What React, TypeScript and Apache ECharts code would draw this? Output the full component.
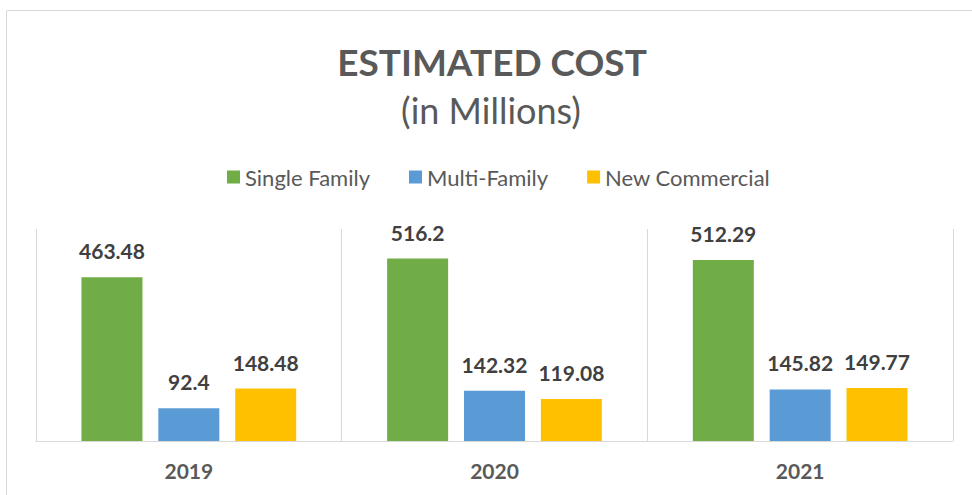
import React, { useEffect, useRef } from "react";
import * as echarts from "echarts";

const categories = ["2019", "2020", "2021"];
const singleFamily = [463.48, 516.2, 512.29];
const multiFamily = [92.4, 142.32, 145.82];
const newCommercial = [148.48, 119.08, 149.77];
const seriesNames = ["Single Family", "Multi-Family", "New Commercial"];
const colors = ["#70AD47", "#5B9BD5", "#FFC000"];

const FONT = "Lato, 'Open Sans', sans-serif";

export default function App() {
  const ref = useRef<HTMLDivElement>(null);
  useEffect(() => {
    if (!ref.current) return;
    const chart = echarts.init(ref.current, undefined, { renderer: "svg" });
    const label = {
      show: true,
      position: "top",
      distance: 16,
      fontFamily: FONT,
      fontSize: 21,
      fontWeight: "bold",
      color: "#404040",
    };
    const values = [singleFamily, multiFamily, newCommercial];
    chart.setOption({
      animation: false,
      backgroundColor: "#ffffff",
      textStyle: { fontFamily: FONT },
      graphic: [
        {
          type: "rect",
          silent: true,
          shape: { x: 6.5, y: 10.5, width: 1200, height: 1000 },
          style: { fill: "none", stroke: "#d9d9d9", lineWidth: 1 },
        },
        {
          type: "text",
          x: 492,
          y: 61,
          style: {
            text: "ESTIMATED COST",
            fontFamily: FONT,
            fontSize: 37,
            fontWeight: "bold",
            fill: "#595959",
            textAlign: "center",
            textVerticalAlign: "middle",
          },
        },
        {
          type: "text",
          x: 491,
          y: 110,
          style: {
            text: "(in Millions)",
            fontFamily: FONT,
            fontSize: 36,
            fill: "#595959",
            textAlign: "center",
            textVerticalAlign: "middle",
          },
        },
      ],
      legend: {
        left: 227,
        top: 166,
        padding: 0,
        itemWidth: 13,
        itemHeight: 13,
        itemGap: 39,
        icon: "rect",
        data: seriesNames,
        textStyle: { fontFamily: FONT, fontSize: 22, color: "#595959" },
      },
      grid: { left: 36, right: 19, top: 229, bottom: 54, containLabel: false },
      xAxis: {
        type: "category",
        data: categories,
        boundaryGap: true,
        axisLine: { show: true, lineStyle: { color: "#d9d9d9", width: 1 } },
        axisTick: { show: false },
        splitLine: { show: true, lineStyle: { color: "#d9d9d9", width: 1 } },
        axisLabel: {
          fontFamily: FONT,
          fontSize: 21,
          fontWeight: "bold",
          color: "#595959",
          margin: 19,
        },
      },
      yAxis: {
        type: "value",
        min: 0,
        max: 600,
        show: false,
        splitLine: { show: false },
      },
      series: seriesNames.map((name, i) => ({
        name,
        type: "bar",
        data: values[i],
        barWidth: 61,
        barGap: "26%",
        itemStyle: { color: colors[i] },
        label,
      })),
    });
    return () => chart.dispose();
  }, []);
  return (
    <div
      ref={ref}
      style={{ position: "absolute", left: 0, top: 0, width: 972, height: 495 }}
    />
  );
}
